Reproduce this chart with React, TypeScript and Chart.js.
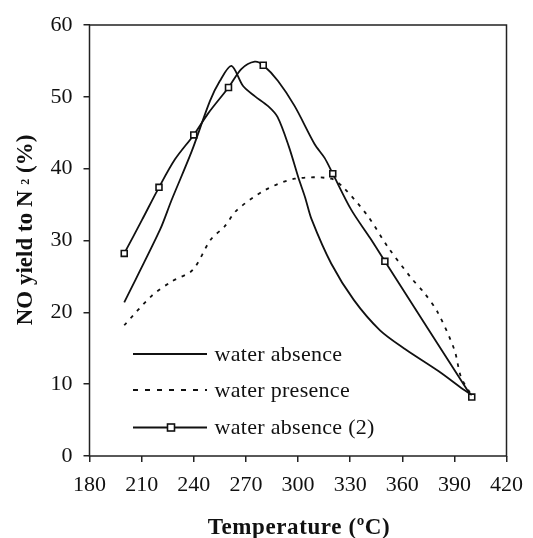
import React, { useEffect, useRef } from "react";
import { Chart, registerables } from "chart.js";

Chart.register(...registerables);

// ---- data ----
const xMin = 180;
const xMax = 420;
const xStep = 30;
const yMin = 0;
const yMax = 60;
const yStep = 10;

const xTitle = "Temperature (ºC)";
const yTitleMain = "NO yield to N ";
const yTitleSub = "2";
const yTitleEnd = " (%)";

const labelAbsence = "water absence";
const labelPresence = "water presence";
const labelAbsence2 = "water absence (2)";

const absenceTemps = [200, 220.6, 227.2, 238.8, 249.3, 255, 261.7, 268.4, 275.1, 282.8, 288.2, 294.7, 300.3, 304.1, 307.9, 319.1, 332.2, 347.2, 362.2, 381, 395, 400];
const absenceVals = [21.4, 31.5, 35.6, 42.4, 49.4, 52.2, 54.3, 51.5, 50.1, 48.7, 47.2, 43.1, 38.7, 36.0, 32.9, 26.8, 21.7, 17.5, 14.8, 11.8, 9.3, 8.5];

const presenceTemps = [200, 215.8, 227.3, 239.4, 249.7, 257.9, 264.7, 280.9, 298.1, 319.1, 326.8, 340.2, 351.7, 365.1, 372.7, 380.4, 390, 393.8, 400];
const presenceVals = [18.2, 22.3, 24.3, 25.9, 30.1, 32.0, 34.2, 37.0, 38.6, 38.6, 37.2, 33.4, 29.1, 24.8, 22.7, 20.0, 14.8, 11.0, 8.4];

const absence2Temps = [200, 210.3, 220, 229.2, 240, 248.3, 260, 267.5, 275.1, 280, 288.5, 298.1, 309.6, 315.3, 320, 330.6, 341.6, 350, 400];
const absence2Vals = [28.2, 32.9, 37.4, 41.3, 44.7, 47.7, 51.3, 53.9, 54.9, 54.4, 52.2, 48.7, 43.4, 41.5, 39.3, 34.3, 30.3, 27.1, 8.2];
const absence2MarkerTemps = [200, 220, 240, 260, 280, 320, 350, 400];

const toPoints = (xs: number[], ys: number[]) => xs.map((x, i) => ({ x, y: ys[i] }));

const FONT = "'Liberation Serif', 'Times New Roman', serif";
const INK = "#111";

const framePlugin = {
  id: "frameAndText",
  afterDraw(chart: any) {
    const { ctx, chartArea } = chart;
    const { left, right, top, bottom } = chartArea;
    ctx.save();
    // frame
    ctx.strokeStyle = "#222";
    ctx.lineWidth = 1.5;
    ctx.strokeRect(left, top, right - left, bottom - top);

    // legend
    const rows = [bottom - 102, bottom - 66, bottom - 28.5];
    const x0 = left + 43.5;
    const x1 = left + 117.5;
    chart.data.datasets.forEach((ds: any, i: number) => {
      const y = rows[i];
      ctx.beginPath();
      ctx.strokeStyle = ds.borderColor;
      ctx.lineWidth = ds.borderWidth;
      ctx.setLineDash(ds.legendDash || []);
      ctx.moveTo(x0, y);
      ctx.lineTo(x1, y);
      ctx.stroke();
      ctx.setLineDash([]);
      if (ds.hasMarkers) {
        const mx = (x0 + x1) / 2 + 1;
        ctx.fillStyle = "#fff";
        ctx.fillRect(mx - 3.5, y - 3.5, 7, 7);
        ctx.lineWidth = 1.6;
        ctx.strokeStyle = INK;
        ctx.strokeRect(mx - 3.5, y - 3.5, 7, 7);
      }
      ctx.fillStyle = INK;
      ctx.font = `22px ${FONT}`;
      (ctx as any).letterSpacing = "0.3px";
      ctx.textAlign = "left";
      ctx.textBaseline = "middle";
      ctx.fillText(ds.label, x1 + 7.5, y + 1);
    });

    // x title
    ctx.fillStyle = INK;
    ctx.font = `bold 23px ${FONT}`;
    (ctx as any).letterSpacing = "0.6px";
    ctx.textAlign = "center";
    ctx.textBaseline = "alphabetic";
    ctx.fillText(xTitle, (left + right) / 2 + 1, 534);
    (ctx as any).letterSpacing = "0px";

    // y title (rotated) with subscript
    ctx.save();
    ctx.translate(32, 230);
    ctx.rotate(-Math.PI / 2);
    const mainFont = `bold 23px ${FONT}`;
    const subFont = `bold 12px ${FONT}`;
    ctx.font = mainFont;
    const w1 = ctx.measureText(yTitleMain).width;
    const w3 = ctx.measureText(yTitleEnd).width;
    ctx.font = subFont;
    const w2 = ctx.measureText(yTitleSub).width;
    const total = w1 + w2 + w3;
    let cx = -total / 2;
    ctx.textAlign = "left";
    ctx.font = mainFont;
    ctx.fillText(yTitleMain, cx, 0);
    cx += w1;
    ctx.font = subFont;
    ctx.fillText(yTitleSub, cx, -3);
    cx += w2;
    ctx.font = mainFont;
    ctx.fillText(yTitleEnd, cx, 0);
    ctx.restore();

    ctx.restore();
  },
};

export default function App() {
  const canvasRef = useRef<HTMLCanvasElement | null>(null);

  useEffect(() => {
    document.body.style.margin = "0";
    const canvas = canvasRef.current;
    if (!canvas) return;

    const chart = new Chart(canvas, {
      type: "line",
      data: {
        datasets: [
          {
            label: labelAbsence,
            data: toPoints(absenceTemps, absenceVals),
            borderColor: INK,
            borderWidth: 1.8,
            pointRadius: 0,
            tension: 0.3,
            fill: false,
          } as any,
          {
            label: labelPresence,
            data: toPoints(presenceTemps, presenceVals),
            borderColor: INK,
            borderWidth: 1.8,
            borderDash: [3.5, 6],
            legendDash: [5, 7],
            pointRadius: 0,
            tension: 0.3,
            fill: false,
          } as any,
          {
            label: labelAbsence2,
            data: toPoints(absence2Temps, absence2Vals),
            borderColor: INK,
            borderWidth: 1.8,
            hasMarkers: true,
            pointStyle: "rect",
            pointRadius: (c: any) => (c.raw && absence2MarkerTemps.includes(c.raw.x) ? 4.2 : 0),
            pointBackgroundColor: "#fff",
            pointBorderColor: INK,
            pointBorderWidth: 1.6,
            tension: 0.3,
            fill: false,
          } as any,
        ],
      },
      options: {
        animation: false,
        responsive: false,
        maintainAspectRatio: false,
        devicePixelRatio: 1,
        layout: { padding: { top: 25, right: 17, left: 0, bottom: 0 } },
        plugins: {
          legend: { display: false },
          tooltip: { enabled: false },
          title: { display: false },
        },
        scales: {
          x: {
            type: "linear",
            min: xMin,
            max: xMax,
            afterFit: (s: any) => {
              s.height = 82;
            },
            ticks: {
              stepSize: xStep,
              color: INK,
              font: { family: FONT, size: 22 },
              padding: 10,
              maxRotation: 0,
              autoSkip: false,
            },
            grid: {
              display: true,
              drawOnChartArea: false,
              drawTicks: true,
              tickLength: 6,
              color: "#222",
              lineWidth: 1.5,
            },
            border: { display: false },
          },
          y: {
            type: "linear",
            min: yMin,
            max: yMax,
            afterFit: (s: any) => {
              s.width = 89.5;
            },
            ticks: {
              stepSize: yStep,
              color: INK,
              font: { family: FONT, size: 22 },
              padding: 11,
            },
            grid: {
              display: true,
              drawOnChartArea: false,
              drawTicks: true,
              tickLength: 6,
              color: "#222",
              lineWidth: 1.5,
            },
            border: { display: false },
          },
        },
      } as any,
      plugins: [framePlugin],
    });

    return () => chart.destroy();
  }, []);

  return (
    <div style={{ position: "absolute", left: 0, top: 0, width: 533, height: 538, background: "#fff" }}>
      <canvas ref={canvasRef} width={533} height={538} style={{ display: "block", width: 533, height: 538 }} />
    </div>
  );
}
